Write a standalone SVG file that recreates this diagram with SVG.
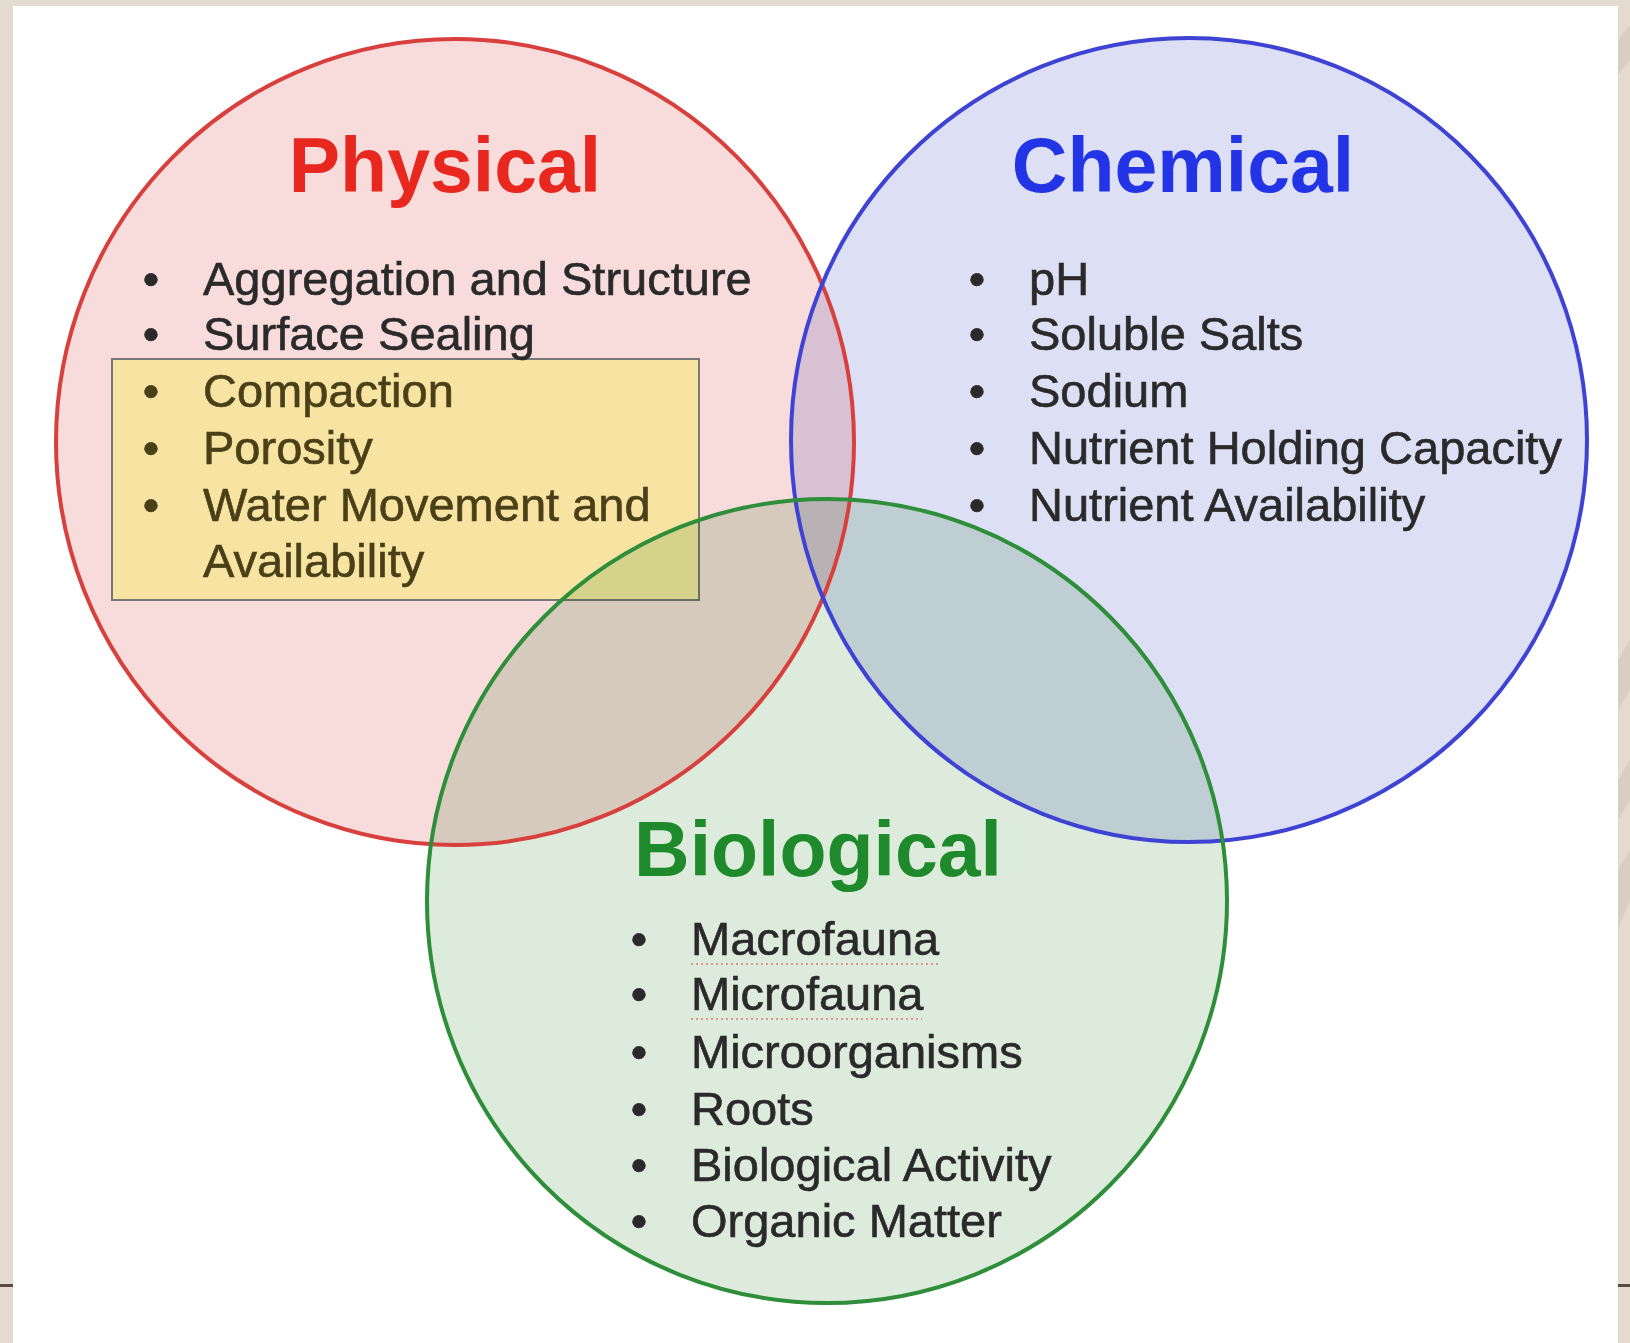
<svg xmlns="http://www.w3.org/2000/svg" width="1630" height="1343" viewBox="0 0 1630 1343">
<style>
.fill{mix-blend-mode:multiply}
.title{font-family:"Liberation Sans",Arial,sans-serif;font-weight:bold;font-size:77px}
.item{font-family:"Liberation Sans",Arial,sans-serif;font-size:47px;fill:#2a2a2a;stroke:#2a2a2a;stroke-width:0.6}
.box .item{fill:#4a4018;stroke:#4a4018}
.ring{fill:none;stroke-width:4}
.spell{fill:none;stroke:#e07070;stroke-width:2;stroke-dasharray:2 3;opacity:0.7}
</style>
<rect x="0" y="0" width="1630" height="1343" fill="#e3dad0"/>
<g fill="#d9cec3">
<polygon points="1618,40 1630,25 1630,60 1618,75"/>
<polygon points="1618,660 1630,640 1630,690 1618,710"/>
<polygon points="1618,780 1630,760 1630,800 1618,820"/>
<polygon points="1618,870 1630,850 1630,900 1618,930"/>
</g>
<rect x="13" y="6" width="1605" height="1337" fill="#ffffff"/>
<rect x="0" y="1284" width="13" height="3" fill="#5b4a40"/>
<rect x="1618" y="1284" width="12" height="3" fill="#5b4a40"/>

<g id="physical">
<ellipse class="fill" cx="455" cy="442" rx="399" ry="403" fill="#f8dcdb"/>
</g>
<g id="chemical">
<ellipse class="fill" cx="1189" cy="440" rx="398" ry="402" fill="#dde0f5"/>
</g>
<g id="highlight-box">
<rect x="112" y="359" width="587" height="241" fill="#f7e4a2" stroke="#777777" stroke-width="2"/>
</g>
<g id="biological">
<ellipse class="fill" cx="827" cy="901" rx="400" ry="402" fill="#dcebdb"/>
</g>

<g id="connectors">
<ellipse class="ring" cx="455" cy="442" rx="399" ry="403" stroke="#d8403e"/>
<ellipse class="ring" cx="1189" cy="440" rx="398" ry="402" stroke="#3e43d3"/>
<ellipse class="ring" cx="827" cy="901" rx="400" ry="402" stroke="#2f8e3a"/>
</g>

<g id="physical-text">
<text class="title" x="445" y="192" text-anchor="middle" fill="#e8281f">Physical</text>
<text class="item" x="151" y="295" text-anchor="middle">•</text>
<text class="item" x="203" y="295">Aggregation and Structure</text>
<text class="item" x="151" y="350" text-anchor="middle">•</text>
<text class="item" x="203" y="350">Surface Sealing</text>
<g class="box">
<text class="item" x="151" y="407" text-anchor="middle">•</text>
<text class="item" x="203" y="407">Compaction</text>
<text class="item" x="151" y="464" text-anchor="middle">•</text>
<text class="item" x="203" y="464">Porosity</text>
<text class="item" x="151" y="521" text-anchor="middle">•</text>
<text class="item" x="203" y="521">Water Movement and</text>
<text class="item" x="203" y="577">Availability</text>
</g>
</g>

<g id="chemical-text">
<text class="title" x="1183" y="192" text-anchor="middle" fill="#2234e6">Chemical</text>
<text class="item" x="977" y="295" text-anchor="middle">•</text>
<text class="item" x="1029" y="295">pH</text>
<text class="item" x="977" y="350" text-anchor="middle">•</text>
<text class="item" x="1029" y="350">Soluble Salts</text>
<text class="item" x="977" y="407" text-anchor="middle">•</text>
<text class="item" x="1029" y="407">Sodium</text>
<text class="item" x="977" y="464" text-anchor="middle">•</text>
<text class="item" x="1029" y="464">Nutrient Holding Capacity</text>
<text class="item" x="977" y="521" text-anchor="middle">•</text>
<text class="item" x="1029" y="521">Nutrient Availability</text>
</g>

<g id="biological-text">
<text class="title" x="818" y="876" text-anchor="middle" fill="#1f8a2b">Biological</text>
<text class="item" x="639" y="955" text-anchor="middle">•</text>
<text class="item" x="691" y="955">Macrofauna</text>
<text class="item" x="639" y="1010" text-anchor="middle">•</text>
<text class="item" x="691" y="1010">Microfauna</text>
<text class="item" x="639" y="1068" text-anchor="middle">•</text>
<text class="item" x="691" y="1068">Microorganisms</text>
<text class="item" x="639" y="1125" text-anchor="middle">•</text>
<text class="item" x="691" y="1125">Roots</text>
<text class="item" x="639" y="1181" text-anchor="middle">•</text>
<text class="item" x="691" y="1181">Biological Activity</text>
<text class="item" x="639" y="1237" text-anchor="middle">•</text>
<text class="item" x="691" y="1237">Organic Matter</text>
<path class="spell" d="M691 964 H940"/>
<path class="spell" d="M691 1019 H922"/>
</g>
</svg>
